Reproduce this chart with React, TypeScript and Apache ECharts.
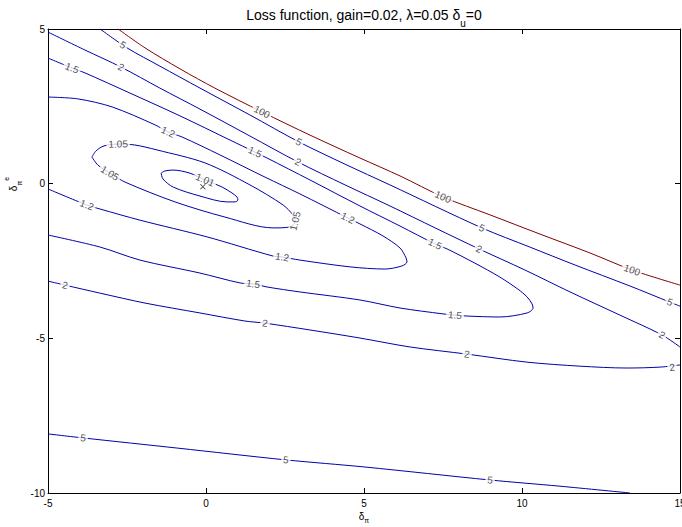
import React, { useEffect, useRef } from 'react';
import * as echarts from 'echarts';

// ---- axes ----
const xMin = -5, xMax = 15, xStep = 5;
const yMin = -10, yMax = 5, yStep = 5;

// ---- contour levels (data units) ----
const level101Line = [[-1.42,0.34],[-1.30,0.41],[-1.04,0.44],[-0.51,0.34],[-0.03,0.12],[0.51,-0.11],[0.82,-0.30],[0.98,-0.43],[1.01,-0.53],[0.92,-0.59],[0.66,-0.59],[-0.19,-0.40],[-1.04,-0.11],[-1.36,0.15],[-1.42,0.34]];
const level101Labels = [[-0.03,0.12]];

const level105Line = [[-3.61,0.86],[-3.48,1.06],[-3.23,1.22],[-2.78,1.28],[-2.25,1.25],[-1.55,1.09],[-0.03,0.67],[1.39,-0.04],[2.44,-0.69],[2.75,-1.01],[2.82,-1.21],[2.66,-1.40],[2.12,-1.43],[0.60,-1.08],[-0.98,-0.59],[-2.56,0.05],[-3.04,0.34],[-3.42,0.60],[-3.61,0.86]];
const level105Labels = [[-2.78,1.28],[-3.04,0.34],[2.82,-1.21]];

const level12Line = [[-5,2.80],[-4.05,2.74],[-2.97,2.48],[-1.61,1.90],[-1.20,1.67],[-0.76,1.51],[0.44,0.93],[1.87,0.21],[2.97,-0.33],[4.49,-1.11],[4.87,-1.30],[5.60,-1.69],[6.14,-2.08],[6.33,-2.40],[6.36,-2.53],[6.20,-2.66],[5.66,-2.76],[4.56,-2.69],[2.97,-2.47],[2.41,-2.37],[2.12,-2.34],[0.03,-1.72],[-2.09,-1.18],[-3.35,-0.82],[-3.77,-0.69],[-5,-0.17]];
const level12Labels = [[-1.20,1.67],[4.49,-1.11],[2.41,-2.37],[-3.77,-0.69]];

const level15Line = [[-5,4.06],[-4.24,3.74],[-3.83,3.58],[-2.41,2.93],[-0.82,2.19],[0.76,1.41],[1.55,1.02],[1.93,0.83],[3.29,0.12],[4.87,-0.72],[6.14,-1.37],[7.25,-1.95],[7.63,-2.11],[8.51,-2.57],[9.30,-3.02],[9.87,-3.41],[10.16,-3.66],[10.32,-3.89],[10.35,-4.02],[10.16,-4.18],[9.30,-4.31],[8.26,-4.28],[7.88,-4.25],[7.50,-4.21],[6.14,-4.02],[4.87,-3.76],[2.97,-3.50],[1.93,-3.34],[1.49,-3.24],[1.08,-3.21],[-0.19,-2.89],[-2.09,-2.47],[-3.35,-2.05],[-5,-1.66]];
const level15Labels = [[-4.24,3.74],[1.55,1.02],[7.25,-1.95],[7.88,-4.25],[1.49,-3.24]];

const level2UpperLine = [[-5,4.90],[-3.83,4.32],[-2.69,3.77],[-1.46,3.09],[-0.19,2.41],[1.39,1.54],[2.91,0.70],[4.40,-0.04],[5.82,-0.72],[7.25,-1.43],[8.64,-2.11],[10.09,-2.79],[11.52,-3.50],[13.10,-4.25],[14.43,-4.89],[15,-5.28]];
const level2UpperLabels = [[-2.69,3.77],[2.91,0.70],[8.64,-2.11],[14.43,-4.89]];
const level2LowerLine = [[-5,-3.15],[-4.46,-3.28],[-3.35,-3.54],[-1.93,-3.86],[-0.19,-4.18],[1.23,-4.44],[1.87,-4.51],[3.29,-4.73],[4.87,-4.99],[6.46,-5.28],[8.26,-5.51],[10.16,-5.77],[11.84,-5.90],[13.32,-5.96],[14.37,-5.93],[15,-5.86]];
const level2LowerLabels = [[-4.46,-3.28],[1.87,-4.51],[8.26,-5.51],[14.75,-5.93]];

const level5UpperLine = [[-3.35,5],[-2.5,4.39],[-1.46,3.80],[-0.19,3.09],[1.39,2.22],[2.94,1.35],[4.40,0.63],[5.82,-0.04],[8.73,-1.43],[10.25,-2.05],[11.68,-2.63],[13.42,-3.31],[14.68,-3.83],[15,-3.96]];
const level5UpperLabels = [[-2.63,4.48],[2.94,1.35],[8.73,-1.43],[14.68,-3.83]];
const level5LowerLine = [[-5,-8.09],[-3.89,-8.22],[-0.89,-8.55],[2.53,-8.93],[5.03,-9.16],[8.99,-9.58],[11.20,-9.78],[13.42,-10]];
const level5LowerLabels = [[-3.89,-8.22],[2.53,-8.93],[8.99,-9.58]];

const level100Line = [[-2.78,5],[-1.93,4.39],[-0.82,3.71],[0.28,3.09],[1.77,2.32],[3.29,1.57],[4.87,0.83],[6.14,0.25],[7.50,-0.43],[8.99,-1.01],[10.57,-1.63],[12.15,-2.24],[13.48,-2.79],[15,-3.28]];
const level100Labels = [[1.77,2.32],[7.50,-0.43],[13.48,-2.79]];

const minimumPoint = [[-0.1,-0.1]];

const BLUE = '#0000a8';
const RED = '#800000';
const FONT = 'Liberation Sans, Arial, Helvetica, sans-serif';

const contours = [
  { level: '1.01', color: BLUE, line: level101Line, labels: level101Labels },
  { level: '1.05', color: BLUE, line: level105Line, labels: level105Labels },
  { level: '1.2', color: BLUE, line: level12Line, labels: level12Labels },
  { level: '1.5', color: BLUE, line: level15Line, labels: level15Labels },
  { level: '2', color: BLUE, line: level2UpperLine, labels: level2UpperLabels },
  { level: '2', color: BLUE, line: level2LowerLine, labels: level2LowerLabels },
  { level: '5', color: BLUE, line: level5UpperLine, labels: level5UpperLabels },
  { level: '5', color: BLUE, line: level5LowerLine, labels: level5LowerLabels },
  { level: '100', color: RED, line: level100Line, labels: level100Labels },
];

function axisCommon(min: number, max: number, step: number) {
  return {
    type: 'value' as const,
    min, max, interval: step,
    axisLine: { show: true, onZero: false, lineStyle: { color: '#000', width: 1 } },
    axisTick: { show: true, inside: true, length: 5, lineStyle: { color: '#000', width: 1 } },
    splitLine: { show: false },
  };
}

function buildOption(rotations: number[][], maxLabelPos: number[] | null) {
  const lineSeries = contours.map((c) => ({
    type: 'line',
    data: c.line,
    showSymbol: false,
    symbol: 'none',
    smooth: 0.3,
    silent: true,
    clip: true,
    z: 2,
    lineStyle: { color: c.color, width: 1 },
  }));
  const labelData: any[] = [];
  contours.forEach((c, ci) => {
    c.labels.forEach((p, li) => {
      labelData.push({
        name: c.level,
        value: p,
        label: { rotate: rotations[ci] ? rotations[ci][li] || 0 : 0 },
      });
    });
  });
  const graphic: any[] = [
    {
      type: 'text', x: 364, y: 15,
      style: {
        text: '{a|Loss function, gain=0.02, λ=0.05 δ}{s|u}{a|=0}',
        align: 'center', verticalAlign: 'middle', fill: '#000',
        font: `14px ${FONT}`,
        rich: {
          a: { fontSize: 14, lineHeight: 27, verticalAlign: 'middle', fontFamily: FONT, fill: '#000' },
          s: { fontSize: 10, lineHeight: 10, verticalAlign: 'bottom', fontFamily: FONT, fill: '#000' },
        },
      },
    },
    {
      type: 'text', x: 364, y: 516,
      style: {
        text: '{a|δ}{s|π}',
        align: 'center', verticalAlign: 'middle', fill: '#000',
        font: `10px ${FONT}`,
        rich: {
          a: { fontSize: 10, lineHeight: 16, verticalAlign: 'middle', fontFamily: FONT, fill: '#000' },
          s: { fontSize: 7, lineHeight: 7, verticalAlign: 'bottom', fontFamily: FONT, fill: '#000' },
        },
      },
    },
    {
      type: 'text', x: 13, y: 184, rotation: Math.PI / 2,
      style: {
        text: '{a|δ}{s|π}{p|e}',
        align: 'center', verticalAlign: 'middle', fill: '#000',
        font: `10px ${FONT}`,
        rich: {
          a: { fontSize: 10, lineHeight: 20, verticalAlign: 'middle', fontFamily: FONT, fill: '#000' },
          s: { fontSize: 7, lineHeight: 8, verticalAlign: 'bottom', fontFamily: FONT, fill: '#000' },
          p: { fontSize: 7, lineHeight: 8, verticalAlign: 'top', fontFamily: FONT, fill: '#000' },
        },
      },
    },
  ];
  if (maxLabelPos) {
    // the last x tick label sits centred on the right edge, as in the original (clipped by the canvas)
    graphic.push({
      type: 'text', x: maxLabelPos[0], y: maxLabelPos[1] + 5,
      style: {
        text: String(xMax), align: 'center', verticalAlign: 'top',
        fill: '#000', font: `10px ${FONT}`,
      },
    });
  }
  return {
    animation: false,
    grid: { left: 48, top: 29, width: 632, height: 464, show: false, containLabel: false },
    xAxis: [
      { ...axisCommon(xMin, xMax, xStep), position: 'bottom',
        axisLabel: { show: true, fontSize: 10, color: '#000', margin: 5, fontFamily: FONT,
          showMaxLabel: false, hideOverlap: false } },
      { ...axisCommon(xMin, xMax, xStep), position: 'top', axisLabel: { show: false } },
    ],
    yAxis: [
      { ...axisCommon(yMin, yMax, yStep), position: 'left',
        axisLabel: { show: true, fontSize: 10, color: '#000', margin: 3, fontFamily: FONT } },
      { ...axisCommon(yMin, yMax, yStep), position: 'right', axisLabel: { show: false } },
    ],
    series: [
      ...lineSeries,
      {
        type: 'scatter',
        data: labelData,
        symbolSize: 0.1,
        itemStyle: { color: 'rgba(0,0,0,0)' },
        silent: true,
        z: 5,
        label: {
          show: true,
          position: 'inside',
          formatter: '{b}',
          fontSize: 10,
          fontFamily: FONT,
          color: '#222',
          backgroundColor: '#fff',
          padding: [0, 2],
        },
      },
      {
        type: 'scatter',
        data: minimumPoint,
        symbol: 'path://M0,4.4h10v1.2h-10z M4.4,0h1.2v10h-1.2z',
        symbolRotate: 45,
        symbolSize: 7,
        itemStyle: { color: '#000' },
        silent: true,
        z: 8,
      },
    ],
    graphic,
  };
}

function labelRotation(chart: any, pts: number[][], p: number[]) {
  let bi = 0, bd = Infinity;
  pts.forEach((q, i) => {
    const d = (q[0] - p[0]) ** 2 + (q[1] - p[1]) ** 2;
    if (d < bd) { bd = d; bi = i; }
  });
  const a = pts[Math.max(0, bi - 1)];
  const b = pts[Math.min(pts.length - 1, bi + 1)];
  const pa = chart.convertToPixel({ gridIndex: 0 }, a);
  const pb = chart.convertToPixel({ gridIndex: 0 }, b);
  let ang = -Math.atan2(pb[1] - pa[1], pb[0] - pa[0]) * 180 / Math.PI;
  while (ang > 90) ang -= 180;
  while (ang < -90) ang += 180;
  return ang;
}

export default function App() {
  const ref = useRef<HTMLDivElement>(null);
  useEffect(() => {
    if (!ref.current) return;
    const chart = echarts.init(ref.current, null, { renderer: 'svg' });
    chart.setOption(buildOption([], null) as any);
    const rotations = contours.map((c) => c.labels.map((p) => labelRotation(chart, c.line, p)));
    const maxPos = chart.convertToPixel({ gridIndex: 0 }, [xMax, yMin]) as number[];
    chart.setOption(buildOption(rotations, maxPos) as any, true);
    return () => chart.dispose();
  }, []);
  return (
    <div
      ref={ref}
      style={{ position: 'absolute', left: 0, top: 0, width: 682, height: 527, background: '#fff' }}
    />
  );
}
